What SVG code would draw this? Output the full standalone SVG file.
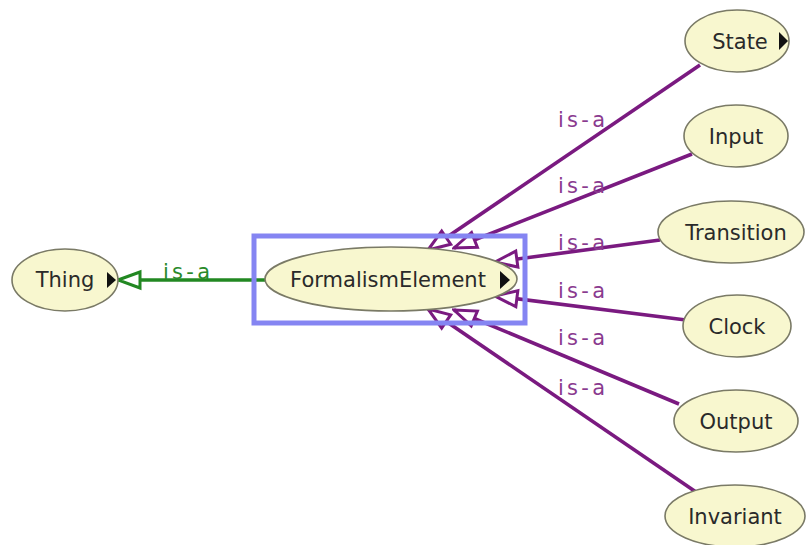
<svg xmlns="http://www.w3.org/2000/svg" width="806" height="545" viewBox="0 0 806 545">
<style>
.node ellipse{fill:#f8f7cf;stroke:#7a7a66;stroke-width:1.6}
.node text{font-family:"DejaVu Sans",sans-serif;font-size:21px;fill:#2a2a2a;text-anchor:middle}
.tri{fill:#111}
.isa{stroke:#7a1a80;stroke-width:3.6;fill:none;marker-start:url(#openP)}
.isag{stroke:#228822;stroke-width:3.6;fill:none;marker-start:url(#openG)}
.lbl{font-family:"DejaVu Sans",sans-serif;font-size:21px;fill:#8a3a8f}
.lblg{font-family:"DejaVu Sans",sans-serif;font-size:21px;fill:#2a8a2a}
</style>
<defs>
<marker id="openP" markerUnits="userSpaceOnUse" markerWidth="30" markerHeight="24" refX="2" refY="12" orient="auto" viewBox="0 0 30 24">
<path d="M2,12 L24,4 L24,20 Z" fill="#fff" stroke="#7a1a80" stroke-width="3"/>
</marker>
<marker id="openG" markerUnits="userSpaceOnUse" markerWidth="30" markerHeight="24" refX="2" refY="12" orient="auto" viewBox="0 0 30 24">
<path d="M2,12 L24,4 L24,20 Z" fill="#fff" stroke="#228822" stroke-width="3"/>
</marker>
</defs>
<rect width="806" height="545" fill="#fff"/>
<g id="connectors">
<line class="isag" x1="118" y1="280" x2="265" y2="280"/>
<line class="isa" x1="428" y1="250" x2="700" y2="65"/>
<line class="isa" x1="454" y1="248" x2="692" y2="154"/>
<line class="isa" x1="495" y1="262" x2="660" y2="240"/>
<line class="isa" x1="495" y1="296" x2="686" y2="320"/>
<line class="isa" x1="454" y1="310" x2="679" y2="404"/>
<line class="isa" x1="428" y1="309" x2="696" y2="492"/>
<text class="lblg" x="163" y="279" textLength="47">is-a</text>
<text class="lbl" x="558" y="127" textLength="47">is-a</text>
<text class="lbl" x="558" y="193" textLength="47">is-a</text>
<text class="lbl" x="558" y="250" textLength="47">is-a</text>
<text class="lbl" x="558" y="298" textLength="47">is-a</text>
<text class="lbl" x="558" y="345" textLength="47">is-a</text>
<text class="lbl" x="558" y="395" textLength="47">is-a</text>
</g>
<g id="node-Thing" class="node">
<ellipse cx="65" cy="280" rx="53" ry="31"/>
<text x="65" y="287">Thing</text>
<path class="tri" d="M107,272 L116,280 L107,288 Z"/>
</g>
<g id="node-FormalismElement" class="node">
<rect x="254" y="236" width="271" height="87" fill="none" stroke="#8585f2" stroke-width="5"/>
<ellipse cx="391" cy="279" rx="126" ry="32"/>
<text x="388" y="287">FormalismElement</text>
<path class="tri" d="M500,271 L510,280 L500,289 Z"/>
</g>
<g id="node-State" class="node">
<ellipse cx="737" cy="41" rx="52" ry="31"/>
<text x="740" y="49">State</text>
<path class="tri" d="M779,32 L788,41 L779,50 Z"/>
</g>
<g id="node-Input" class="node">
<ellipse cx="736" cy="136" rx="52" ry="31"/>
<text x="736" y="144">Input</text>
</g>
<g id="node-Transition" class="node">
<ellipse cx="731" cy="232" rx="73" ry="31"/>
<text x="736" y="240">Transition</text>
</g>
<g id="node-Clock" class="node">
<ellipse cx="737" cy="326" rx="54" ry="31"/>
<text x="737" y="334">Clock</text>
</g>
<g id="node-Output" class="node">
<ellipse cx="736" cy="421" rx="62" ry="31"/>
<text x="736" y="429">Output</text>
</g>
<g id="node-Invariant" class="node">
<ellipse cx="735" cy="516" rx="70" ry="31"/>
<text x="735" y="524">Invariant</text>
</g>
</svg>
